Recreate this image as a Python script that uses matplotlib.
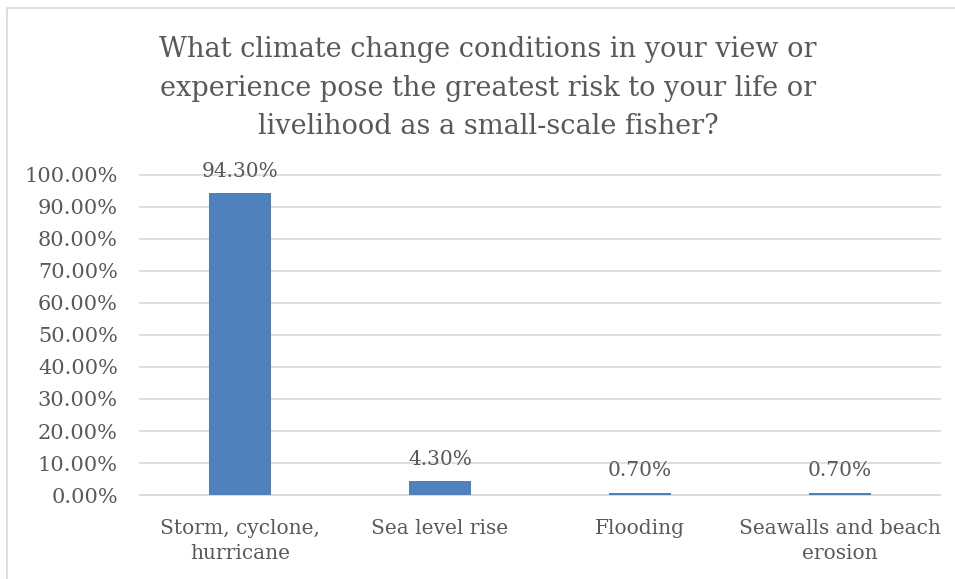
import matplotlib
matplotlib.use("Agg")
import matplotlib.pyplot as plt
from matplotlib.patches import Rectangle

categories = ["Storm, cyclone,\nhurricane", "Sea level rise", "Flooding",
              "Seawalls and beach\nerosion"]
shares = [94.3, 4.3, 0.7, 0.7]
y_ticks = [0, 10, 20, 30, 40, 50, 60, 70, 80, 90, 100]
title = ("What climate change conditions in your view or\n"
         "experience pose the greatest risk to your life or\n"
         "livelihood as a small-scale fisher?")

TEXT = "#595959"
GRID = "#D9D9D9"
BAR = "#4F81BD"

plt.rcParams["font.family"] = ["DejaVu Serif"]

fig = plt.figure(figsize=(9.55, 5.79), dpi=100)
ax = fig.add_axes([0.1466, 0.145, 0.8374, 0.553])

# chart frame (open on the right and bottom edges)
fig.patches.append(Rectangle((7 / 955, -0.1), 1.2, 1 - 8 / 579 + 0.1,
                             transform=fig.transFigure, fill=False,
                             edgecolor=GRID, linewidth=1.2))

x = list(range(len(categories)))
bars = ax.bar(x, shares, width=0.31, color=BAR, zorder=3)

for rect, v in zip(bars, shares):
    ax.annotate(f"{v:.2f}%", (rect.get_x() + rect.get_width() / 2, v),
                xytext=(0, 9), textcoords="offset points",
                ha="center", va="bottom", fontsize=14.5, color=TEXT)

ax.set_xlim(-0.5, len(categories) - 0.5)
ax.set_ylim(0, 100)
ax.set_yticks(y_ticks)
ax.set_yticklabels([f"{t:.2f}%" for t in y_ticks])
ax.set_xticks(x)
ax.set_xticklabels(categories, linespacing=1.45)
ax.tick_params(axis="both", length=0, labelsize=15, labelcolor=TEXT)
ax.tick_params(axis="x", labelsize=14.5, pad=17)
ax.tick_params(axis="y", pad=16)

ax.grid(axis="y", color=GRID, linewidth=1.2, zorder=0)
for gl in ax.get_ygridlines():
    gl.set_clip_on(False)
for side in ["top", "right", "left"]:
    ax.spines[side].set_visible(False)
ax.spines["bottom"].set_color(GRID)
ax.spines["bottom"].set_linewidth(1.2)

fig.text(0.511, 0.937, title, ha="center", va="top", fontsize=19.5,
         color=TEXT, linespacing=1.53)

fig.savefig("out.png", dpi=100)
